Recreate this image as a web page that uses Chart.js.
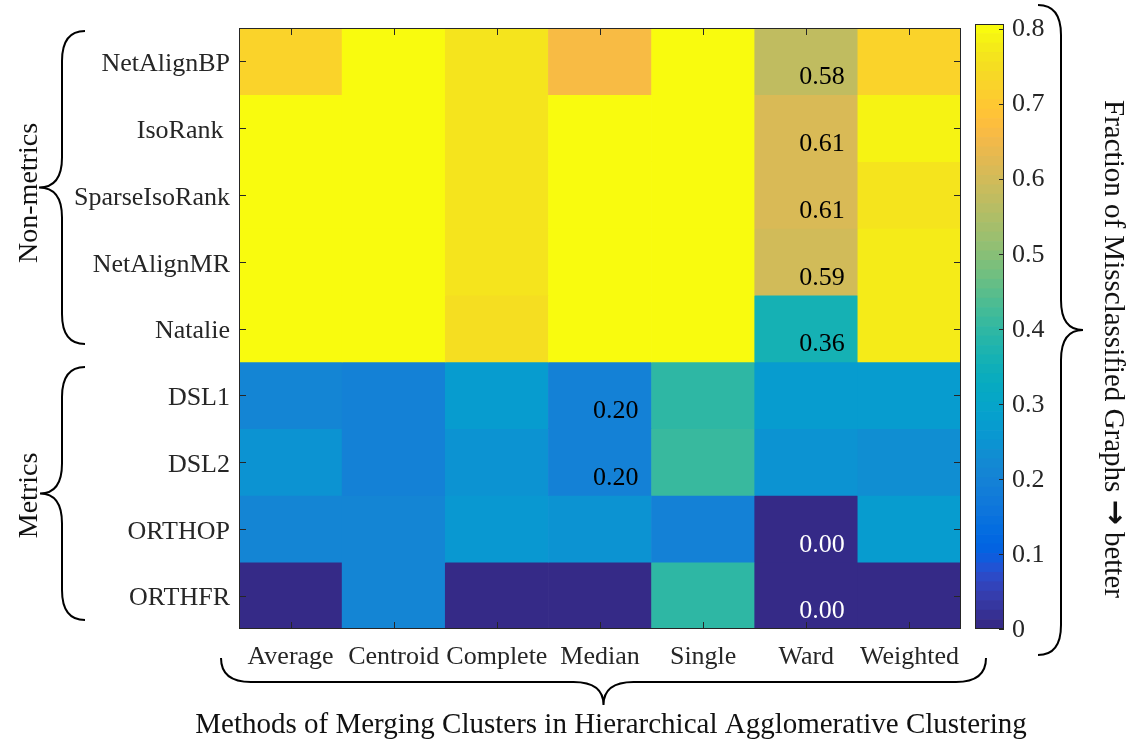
<!DOCTYPE html>
<html><head><meta charset="utf-8">
<script src="https://cdn.jsdelivr.net/npm/chart.js@4/dist/chart.umd.min.js"></script>
<style>
html,body{margin:0;padding:0;background:#fff;}
#wrap{position:relative;width:1138px;height:742px;overflow:hidden;}
canvas{position:absolute;top:0;}
</style></head><body>
<div id="wrap">
<canvas id="heat" width="1138" height="742" style="left:0"></canvas>
<canvas id="cbar" width="178" height="742" style="left:960px"></canvas>
</div>
<script>
// ---------- data ----------
const methods = ['Average','Centroid','Complete','Median','Single','Ward','Weighted'];
const rowLabels = ['NetAlignBP','IsoRank ','SparseIsoRank','NetAlignMR','Natalie','DSL1','DSL2','ORTHOP','ORTHFR'];
const netAlignBP    = [0.72, 0.80, 0.76, 0.66, 0.80, 0.578, 0.72];
const isoRank       = [0.80, 0.80, 0.76, 0.80, 0.80, 0.61, 0.79];
const sparseIsoRank = [0.80, 0.80, 0.76, 0.80, 0.80, 0.61, 0.76];
const netAlignMR    = [0.80, 0.80, 0.76, 0.80, 0.80, 0.594, 0.77];
const natalie       = [0.80, 0.80, 0.75, 0.80, 0.80, 0.36, 0.77];
const dsl1          = [0.21, 0.20, 0.27, 0.20, 0.40, 0.27, 0.27];
const dsl2          = [0.25, 0.20, 0.24, 0.20, 0.41, 0.24, 0.23];
const orthop        = [0.21, 0.21, 0.26, 0.24, 0.195, 0.00, 0.27];
const orthfr        = [0.00, 0.21, 0.00, 0.00, 0.40, 0.00, 0.00];
const valueRows = [netAlignBP, isoRank, sparseIsoRank, netAlignMR, natalie, dsl1, dsl2, orthop, orthfr];
// cells that carry a printed value: [row, column]
const annotatedCells = [[0,5],[1,5],[2,5],[3,5],[4,5],[5,3],[6,3],[7,5],[8,5]];
const colorbarTicks = [0, 0.1, 0.2, 0.3, 0.4, 0.5, 0.6, 0.7, 0.8];
const colorMax = 0.806;
const groupLabels = ['Non-metrics', 'Metrics'];
const xTitle = 'Methods of Merging Clusters in Hierarchical Agglomerative Clustering';
const cbTitleParts = ['Fraction of Missclassified Graphs ', '\u2192', ' better'];

// ---------- colormap (parula, 64) ----------
const parula = [
[0.2081,0.1663,0.5292],[0.2116,0.1898,0.5777],[0.2123,0.2138,0.6270],[0.2081,0.2386,0.6771],
[0.1959,0.2645,0.7279],[0.1707,0.2919,0.7792],[0.1253,0.3242,0.8303],[0.0591,0.3598,0.8683],
[0.0117,0.3875,0.8820],[0.0060,0.4086,0.8828],[0.0165,0.4266,0.8786],[0.0329,0.4430,0.8720],
[0.0498,0.4586,0.8641],[0.0629,0.4737,0.8554],[0.0723,0.4887,0.8467],[0.0779,0.5040,0.8384],
[0.0793,0.5200,0.8312],[0.0749,0.5375,0.8263],[0.0641,0.5570,0.8240],[0.0488,0.5772,0.8228],
[0.0343,0.5966,0.8199],[0.0265,0.6137,0.8135],[0.0239,0.6287,0.8038],[0.0231,0.6418,0.7913],
[0.0228,0.6535,0.7768],[0.0267,0.6642,0.7607],[0.0384,0.6743,0.7436],[0.0590,0.6838,0.7254],
[0.0843,0.6928,0.7062],[0.1133,0.7015,0.6859],[0.1453,0.7098,0.6646],[0.1801,0.7177,0.6424],
[0.2178,0.7250,0.6193],[0.2586,0.7317,0.5954],[0.3022,0.7376,0.5712],[0.3482,0.7424,0.5473],
[0.3953,0.7459,0.5244],[0.4420,0.7481,0.5033],[0.4871,0.7491,0.4840],[0.5300,0.7491,0.4661],
[0.5709,0.7485,0.4494],[0.6099,0.7473,0.4337],[0.6473,0.7456,0.4188],[0.6834,0.7435,0.4044],
[0.7184,0.7411,0.3905],[0.7525,0.7384,0.3768],[0.7858,0.7356,0.3633],[0.8185,0.7327,0.3498],
[0.8507,0.7299,0.3360],[0.8824,0.7274,0.3217],[0.9139,0.7258,0.3063],[0.9450,0.7261,0.2886],
[0.9739,0.7314,0.2666],[0.9938,0.7455,0.2403],[0.9990,0.7653,0.2164],[0.9955,0.7861,0.1967],
[0.9880,0.8066,0.1794],[0.9789,0.8271,0.1633],[0.9697,0.8481,0.1475],[0.9626,0.8705,0.1309],
[0.9589,0.8949,0.1132],[0.9598,0.9218,0.0948],[0.9661,0.9514,0.0755],[0.9763,0.9831,0.0538]];
const rgbOf = c => `rgb(${Math.round(c[0]*255)},${Math.round(c[1]*255)},${Math.round(c[2]*255)})`;
const colorFor = v => rgbOf(parula[Math.max(0, Math.min(63, Math.floor(v / colorMax * 64)))]);

const FONT = 'Liberation Serif';
const AXIS_COLOR = '#262626';
Chart.defaults.font.family = FONT;

// ---------- decoration helpers ----------
function brace(ctx, map, u0, u1, uTip, wEnd, wBody, wTip, rEnd, rTip) {
  const P = (u, w) => map(u, w);
  ctx.beginPath();
  let p = P(u0, wEnd); ctx.moveTo(p[0], p[1]);
  let c = P(u0, wBody), e = P(u0 + rEnd, wBody); ctx.quadraticCurveTo(c[0], c[1], e[0], e[1]);
  e = P(uTip - rTip, wBody); ctx.lineTo(e[0], e[1]);
  c = P(uTip, wBody); e = P(uTip, wTip); ctx.quadraticCurveTo(c[0], c[1], e[0], e[1]);
  e = P(uTip + rTip, wBody); ctx.quadraticCurveTo(c[0], c[1], e[0], e[1]);
  e = P(u1 - rEnd, wBody); ctx.lineTo(e[0], e[1]);
  c = P(u1, wBody); e = P(u1, wEnd); ctx.quadraticCurveTo(c[0], c[1], e[0], e[1]);
  ctx.stroke();
}
const vert = (u, w) => [w, u];
const horz = (u, w) => [u, w];

const heatDecor = {
  id: 'heatDecor',
  afterDatasetsDraw(chart) {
    const {ctx, chartArea: a, scales: {x, y}} = chart;
    ctx.save();
    const colW = x.getPixelForValue(1) - x.getPixelForValue(0);
    ctx.font = `26px "${FONT}"`;
    ctx.textAlign = 'right';
    ctx.textBaseline = 'middle';
    annotatedCells.forEach(([r, c]) => {
      const v = valueRows[r][c];
      const cx = x.getPixelForValue(c), cy = y.getPixelForValue(r + 0.5);
      ctx.fillStyle = v < 0.1 ? '#ffffff' : '#000000';
      ctx.fillText(v.toFixed(2), cx + colW / 2 - 13, cy + 16);
    });
    ctx.strokeStyle = AXIS_COLOR;
    ctx.lineWidth = 1;
    ctx.strokeRect(a.left + 0.5, a.top + 0.5, a.right - a.left - 1, a.bottom - a.top - 1);
    const tl = 7;
    ctx.beginPath();
    methods.forEach((_, c) => {
      const px = Math.round(x.getPixelForValue(c)) + 0.5;
      ctx.moveTo(px, a.top); ctx.lineTo(px, a.top + tl);
      ctx.moveTo(px, a.bottom); ctx.lineTo(px, a.bottom - tl);
    });
    rowLabels.forEach((_, r) => {
      const py = Math.round(y.getPixelForValue(r + 0.5)) + 0.5;
      ctx.moveTo(a.left, py); ctx.lineTo(a.left + tl, py);
      ctx.moveTo(a.right, py); ctx.lineTo(a.right - tl, py);
    });
    ctx.stroke();
    ctx.restore();
  },
  afterDraw(chart) {
    const {ctx, scales: {y}} = chart;
    ctx.save();
    ctx.strokeStyle = '#000';
    ctx.lineWidth = 2;
    const yTop = y.getPixelForValue(0), yMidSplit = y.getPixelForValue(5), yBot = y.getPixelForValue(9);
    // left braces
    brace(ctx, vert, 31, 344, (31 + 344) / 2, 85, 62, 39, 30, 30);
    brace(ctx, vert, 367, 620, (367 + 620) / 2, 85, 62, 40, 30, 30);
    // bottom brace
    brace(ctx, horz, 221, 986, (221 + 986) / 2, 658, 682, 705, 30, 30);
    // right brace
    brace(ctx, vert, 5, 655, 330, 1038, 1061, 1083, 30, 30);

    ctx.fillStyle = '#111';
    ctx.textBaseline = 'middle';
    const drawRot = (t, cx, cy, ang) => { ctx.save(); ctx.translate(cx, cy); ctx.rotate(ang); ctx.fillText(t, 0, 0); ctx.restore(); };
    ctx.textAlign = 'center';
    ctx.font = `28px "${FONT}"`;
    drawRot(groupLabels[0], 30, (yTop + yMidSplit) / 2 - 2, -Math.PI / 2);
    drawRot(groupLabels[1], 30, (yMidSplit + yBot) / 2, -Math.PI / 2);
    ctx.font = `29px "${FONT}"`;
    ctx.fillText(xTitle, 611, 725);

    // colorbar title, rotated clockwise, with a heavier arrow glyph
    const fonts = [`29px "${FONT}"`, `bold 30px "DejaVu Sans"`, `29px "${FONT}"`];
    const widths = cbTitleParts.map((t, i) => { ctx.font = fonts[i]; return ctx.measureText(t).width; });
    const total = widths.reduce((s, w) => s + w, 0);
    ctx.save();
    ctx.translate(1113, 349);
    ctx.rotate(Math.PI / 2);
    ctx.textAlign = 'left';
    let xx = -total / 2;
    cbTitleParts.forEach((t, i) => { ctx.font = fonts[i]; ctx.fillText(t, xx, i === 1 ? -1 : 0); xx += widths[i]; });
    ctx.restore();
    ctx.restore();
  }
};

new Chart(document.getElementById('heat'), {
  type: 'bar',
  data: {
    labels: methods,
    datasets: valueRows.map((row, r) => ({
      label: rowLabels[r],
      data: row.map(() => [r, r + 1]),
      backgroundColor: row.map(v => colorFor(v)),
      borderWidth: 0,
      grouped: false,
      barPercentage: 1,
      categoryPercentage: 1
    }))
  },
  options: {
    responsive: false,
    animation: false,
    layout: {padding: {left: 0, right: 177, top: 28, bottom: 0}},
    plugins: {legend: {display: false}, tooltip: {enabled: false}},
    scales: {
      x: {
        type: 'category', offset: true,
        grid: {display: false, drawTicks: false}, border: {display: false},
        ticks: {font: {family: FONT, size: 26}, color: AXIS_COLOR, padding: 13, maxRotation: 0, minRotation: 0, autoSkip: false},
        afterFit: s => { s.height = 113; }
      },
      y: {
        type: 'linear', min: 0, max: 9, reverse: true,
        grid: {display: false, drawTicks: false}, border: {display: false},
        afterBuildTicks: s => { s.ticks = rowLabels.map((_, i) => ({value: i + 0.5})); },
        ticks: {font: {family: FONT, size: 26}, color: AXIS_COLOR, padding: 9, autoSkip: false, labelOffset: 3,
                callback: (v, i) => rowLabels[i]},
        afterFit: s => { s.width = 239; }
      }
    }
  },
  plugins: [heatDecor]
});

const cbDecor = {
  id: 'cbDecor',
  afterDatasetsDraw(chart) {
    const {ctx, chartArea: a, scales: {y}} = chart;
    ctx.save();
    ctx.strokeStyle = AXIS_COLOR;
    ctx.lineWidth = 1;
    ctx.strokeRect(a.left + 0.5, a.top + 0.5, a.right - a.left - 1, a.bottom - a.top - 1);
    ctx.beginPath();
    colorbarTicks.forEach(v => {
      const py = Math.round(y.getPixelForValue(v)) + 0.5;
      ctx.moveTo(a.right, py); ctx.lineTo(a.right - 5, py);
    });
    ctx.stroke();
    ctx.restore();
  }
};

new Chart(document.getElementById('cbar'), {
  type: 'bar',
  data: {
    labels: ['colorbar'],
    datasets: parula.map((c, k) => ({
      data: [[k * colorMax / 64, (k + 1) * colorMax / 64]],
      backgroundColor: rgbOf(c),
      borderWidth: 0,
      grouped: false,
      barPercentage: 1,
      categoryPercentage: 1
    }))
  },
  options: {
    responsive: false,
    animation: false,
    layout: {padding: {left: 15, right: 74, top: 24, bottom: 113}},
    plugins: {legend: {display: false}, tooltip: {enabled: false}},
    scales: {
      x: {display: false},
      y: {
        position: 'right', min: 0, max: colorMax,
        grid: {display: false, drawTicks: false}, border: {display: false},
        afterBuildTicks: s => { s.ticks = colorbarTicks.map(v => ({value: v})); },
        ticks: {font: {family: FONT, size: 26}, color: AXIS_COLOR, padding: 8, labelOffset: 1,
                callback: v => v === 0 ? '0' : v.toFixed(1)},
        afterFit: s => { s.width = 60; }
      }
    }
  },
  plugins: [cbDecor]
});
</script>
</body></html>
